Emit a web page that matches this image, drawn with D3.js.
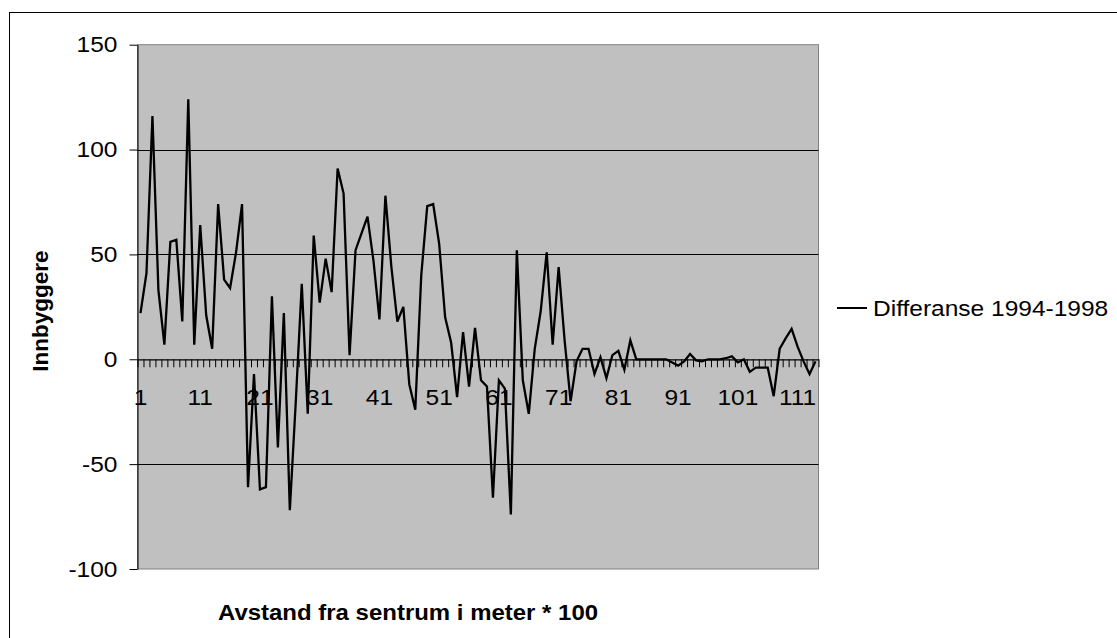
<!DOCTYPE html>
<html>
<head>
<meta charset="utf-8">
<script src="https://cdn.jsdelivr.net/npm/d3@7"></script>
<style>
  html, body { margin: 0; padding: 0; background: #fff; }
  svg { display: block; font-family: "Liberation Sans", Arial, sans-serif; }
</style>
</head>
<body>
<svg id="chart" width="1117" height="638"></svg>
<script>
// ---- data ----
const categories = d3.range(1, 115);
const values = [
  22, 41, 116, 33, 7, 56, 57, 18, 124, 7,
  64, 21, 5, 74, 38, 34, 51, 74, -61, -7,
  -62, -61, 30, -42, 22, -72, -20, 36, -26, 59,
  27, 48, 32, 91, 79, 2, 52, 60, 68, 47,
  19, 78, 44, 18, 25, -12, -24, 40, 73, 74,
  55, 20, 8, -18, 13, -13, 15, -10, -13, -66,
  -10, -14, -74, 52, -10, -26, 5, 23, 51, 7,
  44, 9, -20, -1, 5, 5, -7, 1, -9, 2,
  4, -5, 9, 0, 0, 0, 0, 0, 0, -1.5,
  -3, -1, 2.5, -0.5, -1, 0, 0, 0, 0.5, 1.4,
  -1.5, 0, -6, -4, -4, -4, -17.6, 5, 10, 14.5,
  6, -1, -7, -1
];
const yTicks = [-100, -50, 0, 50, 100, 150];
const xLabelTicks = [1, 11, 21, 31, 41, 51, 61, 71, 81, 91, 101, 111];
const seriesName = "Differanse 1994-1998";
const xTitle = "Avstand fra sentrum i meter * 100";
const yTitle = "Innbyggere";

// ---- layout ----
const plot = { left: 137.5, right: 818.5, top: 44.7, bottom: 569 };
const fontSize = 22.5;
const SX = 1.09; // horizontal stretch of glyphs seen in the reference

const svg = d3.select("#chart");

function stretch(sel) {
  sel.each(function () {
    const t = d3.select(this);
    const x0 = +t.attr("x") || 0;
    t.attr("x", x0 / SX).attr("transform", `scale(${SX},1)`);
  });
}

// outer chart border
svg.append("rect")
  .attr("x", 9.5).attr("y", 12.5)
  .attr("width", 1130).attr("height", 640)
  .attr("fill", "#fff").attr("stroke", "#000").attr("stroke-width", 1);

const x = d3.scaleBand().domain(categories).range([plot.left, plot.right]).padding(0);
const xEdge = d3.scaleLinear().domain([0, categories.length]).range([plot.left, plot.right]);
const y = d3.scaleLinear().domain([-100, 150]).range([plot.bottom, plot.top]);

// plot area
svg.append("rect")
  .attr("x", plot.left).attr("y", plot.top)
  .attr("width", plot.right - plot.left).attr("height", plot.bottom - plot.top)
  .attr("fill", "#c0c0c0").attr("stroke", "#808080").attr("stroke-width", 1);

// gridlines
svg.append("g").selectAll("line")
  .data(yTicks.filter(t => t !== 0 && t !== -100 && t !== 150))
  .join("line")
  .attr("x1", plot.left).attr("x2", plot.right)
  .attr("y1", d => Math.round(y(d)) + 0.5).attr("y2", d => Math.round(y(d)) + 0.5)
  .attr("stroke", "#000").attr("stroke-width", 1);

// y axis
const yAxis = d3.axisLeft(y).tickValues(yTicks).tickSize(8).tickPadding(12)
  .tickSizeOuter(0).tickFormat(d => String(d));
const gy = svg.append("g").attr("transform", `translate(${plot.left},0)`).call(yAxis);
gy.select(".domain").attr("stroke", "#000");
gy.selectAll(".tick line").attr("stroke", "#000");
gy.selectAll(".tick text")
  .attr("font-size", fontSize).attr("fill", "#000")
  .attr("font-family", "'Liberation Sans', Arial, sans-serif")
  .call(stretch);

// x axis at zero: tick marks at category boundaries
const y0 = y(0);
const gxTicks = d3.axisBottom(xEdge).tickValues(d3.range(0, categories.length + 1))
  .tickSize(8).tickFormat("").tickSizeOuter(0);
const gx = svg.append("g").attr("transform", `translate(0,${y0})`).call(gxTicks);
gx.select(".domain").attr("stroke", "#000").attr("stroke-width", 1.2);
gx.selectAll(".tick line").attr("stroke", "#000");

// x axis labels
const gxl = svg.append("g").attr("transform", `translate(0,${y0})`)
  .call(d3.axisBottom(x).tickValues(xLabelTicks).tickSize(0).tickPadding(30));
gxl.select(".domain").remove();
gxl.selectAll(".tick text")
  .attr("font-size", fontSize).attr("fill", "#000")
  .attr("font-family", "'Liberation Sans', Arial, sans-serif")
  .call(stretch);

// data line
const line = d3.line()
  .x((d, i) => x(categories[i]) + x.bandwidth() / 2)
  .y(d => y(d));
svg.append("path")
  .datum(values)
  .attr("d", line)
  .attr("fill", "none").attr("stroke", "#000")
  .attr("stroke-width", 2.3).attr("stroke-linejoin", "miter");

// axis titles
svg.append("g").attr("transform", "translate(408,620)")
  .append("text")
  .attr("text-anchor", "middle")
  .attr("font-size", 22).attr("font-weight", "bold")
  .text(xTitle)
  .call(stretch);
svg.append("text")
  .attr("transform", `translate(48,311) rotate(-90)`)
  .attr("text-anchor", "middle")
  .attr("font-size", fontSize).attr("font-weight", "bold")
  .text(yTitle);

// legend
const lg = svg.append("g");
lg.append("line")
  .attr("x1", 837).attr("x2", 867).attr("y1", 308).attr("y2", 308)
  .attr("stroke", "#000").attr("stroke-width", 2);
lg.append("g").attr("transform", "translate(873,308)")
  .append("text")
  .attr("dy", "0.35em")
  .attr("font-size", fontSize)
  .text(seriesName)
  .call(stretch);
</script>
</body>
</html>
